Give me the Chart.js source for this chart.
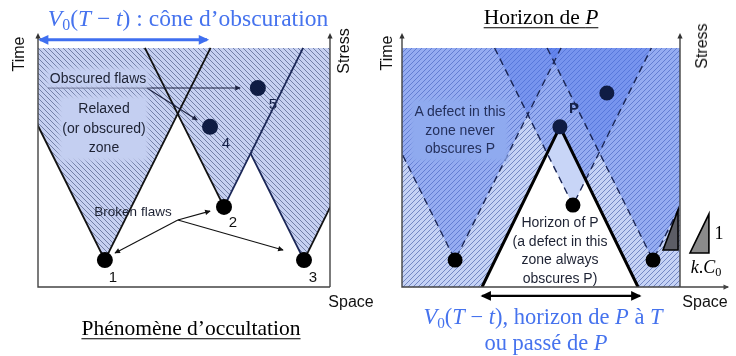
<!DOCTYPE html>
<html>
<head>
<meta charset="utf-8">
<script src="https://cdn.jsdelivr.net/npm/chart.js@4.4.0/dist/chart.umd.min.js"></script>
<style>
  body { margin: 0; background: #fff; }
  #wrap { position: relative; width: 736px; height: 356px; overflow: hidden; font-family: "Liberation Sans", Arial, sans-serif; }
  canvas { position: absolute; top: 0; }
  .t { position: absolute; transform: translate(-50%, -50%); white-space: nowrap; line-height: 1; text-align: center; }
  .rot { transform: translate(-50%, -50%) rotate(-90deg); font-size: 16px; color: #111; }
  .serif { font-family: "Liberation Serif", "DejaVu Serif", serif; }
  .blue { color: #4673ee; }
  .u { text-decoration: underline; text-decoration-thickness: 1px; text-underline-offset: 3px; }
  .sub { font-size: 0.68em; vertical-align: -0.28em; }
  .note { font-size: 14px; color: #1d2233; }
  .lbl { font-size: 15px; color: #111; }
  .navy { color: #16224a; }
  .bgL { background: #c4cff1; box-shadow: 0 0 4px 3px #c4cff1; }
  .bgR { background: #8faaef; box-shadow: 0 0 4px 3px #8faaef; }
</style>
</head>
<body>
<div id="wrap">
  <canvas id="left" width="370" height="356" style="left:0"></canvas>
  <canvas id="right" width="366" height="356" style="left:370px"></canvas>

  <div class="t serif blue" style="left:188px;top:20px;font-size:23.5px"><i>V</i><span class="sub">0</span>(<i>T</i> − <i>t</i>) : cône d’obscuration</div>
  <div class="t serif u" style="left:541px;top:18px;font-size:21.5px">Horizon de <i>P</i></div>
  <div class="t serif u" style="left:191px;top:329px;font-size:21.5px">Phénomène d’occultation</div>
  <div class="t serif blue" style="left:543px;top:318px;font-size:22.5px"><i>V</i><span class="sub">0</span>(<i>T</i> − <i>t</i>), horizon de <i>P</i> à <i>T</i></div>
  <div class="t serif blue" style="left:546px;top:343px;font-size:22.5px">ou passé de <i>P</i></div>

  <div class="t rot" style="left:19px;top:54px">Time</div>
  <div class="t rot" style="left:344px;top:51px">Stress</div>
  <div class="t rot" style="left:387px;top:53px">Time</div>
  <div class="t rot" style="left:702px;top:46px">Stress</div>
  <div class="t lbl" style="left:351px;top:302px;font-size:16px">Space</div>
  <div class="t lbl" style="left:705px;top:302px;font-size:16px">Space</div>

  <div class="t note bgL" style="left:98px;top:78px">Obscured flaws</div>
  <div class="t note bgL" style="left:104px;top:128px;line-height:19.5px">Relaxed<br>(or obscured)<br>zone</div>
  <div class="t note" style="left:133px;top:212px;font-size:13.5px">Broken flaws</div>
  <div class="t lbl" style="left:113px;top:276px">1</div>
  <div class="t lbl" style="left:233px;top:221px">2</div>
  <div class="t lbl" style="left:313px;top:276px">3</div>
  <div class="t lbl navy" style="left:226px;top:142px">4</div>
  <div class="t lbl navy" style="left:273px;top:103px">5</div>

  <div class="t note bgR" style="left:460px;top:130px;line-height:18.5px;color:#24305c">A defect in this<br>zone never<br>obscures P</div>
  <div class="t navy" style="left:574px;top:107px;font-size:15px;font-weight:bold">P</div>
  <div class="t note" style="left:560px;top:250px;line-height:18.7px">Horizon of P<br>(a defect in this<br>zone always<br>obscures P)</div>
  <div class="t serif" style="left:719px;top:233px;font-size:18px">1</div>
  <div class="t serif" style="left:706px;top:268px;font-size:18px"><i>k</i>.<i>C</i><span class="sub">0</span></div>
</div>

<script>
// ---- left panel: "Phénomène d'occultation" (space 0..10, time 0..8, T = 8)
const T_TOP = 8;
const flawSpace = [2.29, 6.37, 9.11, 5.89, 7.53];
const flawTime = [0.90, 2.68, 0.90, 5.36, 6.66];
const coneApex = [0, 1, 2];
const coneTopLeft = [-1.33, 3.66, 5.49];
const coneTopRight = [5.91, 9.08, 12.7];
const cone3Meet = [7.27, 4.49];          // where cone 3's left edge enters cone 2
const obscuredFrom = [[0.34, 6.66], [3.73, 6.66]];
const obscuredTo = [[6.92, 6.66], [5.45, 5.59]];
const brokenHub = [4.79, 2.24];
const brokenTo = [[5.89, 2.54], [2.64, 1.14], [8.39, 1.24]];
const spanArrow = [0.07, 5.79, 8.27];      // x0, x1, time

// ---- right panel: "Horizon de P"
const dotSpace = [1.91, 6.15, 9.03, 5.68, 7.37];
const dotTime = [0.90, 2.74, 0.90, 5.36, 6.49];
const rConeApex = [0, 1, 2];
const rConeTopLeft = [-1.90, 3.33, 5.22];
const rConeTopRight = [5.72, 8.97, 12.84];
const horizonApex = 3;                    // P
const horizonBase = [2.88, 8.49];
const pastOfP = [[6.15, 2.74], [6.62, 3.60], [5.68, 5.36], [5.21, 4.48]];
const slopeInner = [[9.39, 1.24], [9.93, 1.24], [9.93, 2.58]];
const slopeOuter = [[10.36, 1.14], [11.04, 1.14], [11.04, 2.44]];
const horizonArrow = [2.88, 8.56, -0.30];
const spaceAxisEnd = 11.73;

const P = (s, t) => ({ x: s, y: t });

function hatch(bg, ink, dir, step) {
    const c = document.createElement('canvas');
    c.width = c.height = step;
    const g = c.getContext('2d');
    g.fillStyle = bg;
    g.fillRect(0, 0, step, step);
    g.strokeStyle = ink;
    g.lineWidth = 1;
    g.beginPath();
    if (dir > 0) {
        g.moveTo(-1, step + 1); g.lineTo(step + 1, -1);
        g.moveTo(-1, 1); g.lineTo(1, -1);
        g.moveTo(step - 1, step + 1); g.lineTo(step + 1, step - 1);
    } else {
        g.moveTo(-1, -1); g.lineTo(step + 1, step + 1);
        g.moveTo(-1, step - 1); g.lineTo(1, step + 1);
        g.moveTo(step - 1, -1); g.lineTo(step + 1, 1);
    }
    g.stroke();
    return g.createPattern(c, 'repeat');
}

function drawHead(ctx, a, b, size, color, lw) {
    const ang = Math.atan2(b.y - a.y, b.x - a.x);
    ctx.save();
    ctx.translate(b.x, b.y);
    ctx.rotate(ang);
    ctx.translate(lw * 0.7, 0);
    ctx.fillStyle = color;
    ctx.beginPath();
    ctx.moveTo(0, 0);
    ctx.lineTo(-size * 1.6, -size * 0.75);
    ctx.lineTo(-size * 1.6, size * 0.75);
    ctx.closePath();
    ctx.fill();
    ctx.restore();
}

const arrowHeads = {
    id: 'arrowHeads',
    afterDatasetsDraw(chart) {
        const ctx = chart.ctx;
        chart.data.datasets.forEach((ds, i) => {
            if (!ds.heads) return;
            const pts = chart.getDatasetMeta(i).data;
            ds.heads.forEach(h => {
                const n = pts.length;
                if (h === 'end') drawHead(ctx, pts[n - 2], pts[n - 1], ds.headSize, ds.borderColor, ds.borderWidth);
                else drawHead(ctx, pts[1], pts[0], ds.headSize, ds.borderColor, ds.borderWidth);
            });
        });
    }
};

// frame: two vertical axes with arrows + baseline, plus slope marks
const frame = {
    id: 'frame',
    afterDraw(chart, args, opts) {
        const { ctx, chartArea: a, scales } = chart;
        (opts.marks || []).forEach(m => {
            ctx.save();
            ctx.beginPath();
            m.pts.forEach((p, k) => {
                const x = scales.x.getPixelForValue(p[0]);
                const y = scales.y.getPixelForValue(p[1]);
                k ? ctx.lineTo(x, y) : ctx.moveTo(x, y);
            });
            ctx.closePath();
            ctx.fillStyle = m.fill;
            ctx.fill();
            ctx.strokeStyle = '#000';
            ctx.lineWidth = 1.6;
            ctx.stroke();
            ctx.restore();
        });
        ctx.save();
        ctx.strokeStyle = '#444';
        ctx.lineWidth = 1.4;
        ctx.beginPath();
        ctx.moveTo(a.left, a.top + 4); ctx.lineTo(a.left, a.bottom);
        ctx.lineTo(a.right, a.bottom);
        ctx.moveTo(a.right, a.top + 4); ctx.lineTo(a.right, a.bottom);
        ctx.stroke();
        ctx.restore();
        drawHead(ctx, { x: a.left, y: a.bottom }, { x: a.left, y: a.top }, 3.5, '#333', 0);
        drawHead(ctx, { x: a.right, y: a.bottom }, { x: a.right, y: a.top }, 3.5, '#333', 0);
    }
};

function poly(points, bg, order) {
    return { data: points, fill: 'shape', backgroundColor: bg, borderWidth: 0, pointRadius: 0, order };
}
function seg(points, color, width, order, extra) {
    return Object.assign({ data: points, fill: false, borderColor: color, borderWidth: width, pointRadius: 0, order }, extra || {});
}

function baseOptions(pad, marks) {
    return {
        responsive: false,
        animation: false,
        events: [],
        layout: { padding: pad },
        scales: {
            x: { type: 'linear', min: 0, max: 10, display: false },
            y: { type: 'linear', min: 0, max: 8.5, display: false }
        },
        elements: { line: { tension: 0 }, point: { radius: 0 } },
        plugins: { legend: { display: false }, tooltip: { enabled: false }, frame: { marks } }
    };
}

// ---------- left chart
const leftFill = hatch('#c6d0f1', 'rgba(45,60,105,0.55)', -1, 5);
const leftSets = [];
coneApex.forEach((a, i) => {
    leftSets.push(poly([P(flawSpace[a], flawTime[a]), P(coneTopRight[i], T_TOP), P(coneTopLeft[i], T_TOP)], leftFill, 9));
});
const edgeBlack = '#111', edgeNavy = '#1a2656';
leftSets.push(seg([P(flawSpace[0], flawTime[0]), P(coneTopLeft[0], T_TOP)], edgeBlack, 1.8, 5));
leftSets.push(seg([P(flawSpace[0], flawTime[0]), P(coneTopRight[0], T_TOP)], edgeBlack, 1.8, 5));
leftSets.push(seg([P(flawSpace[1], flawTime[1]), P(coneTopLeft[1], T_TOP)], edgeBlack, 1.8, 5));
leftSets.push(seg([P(flawSpace[1], flawTime[1]), P(coneTopRight[1], T_TOP)], edgeNavy, 1.8, 5));
leftSets.push(seg([P(flawSpace[2], flawTime[2]), P(cone3Meet[0], cone3Meet[1])], edgeNavy, 1.8, 5));
leftSets.push(seg([P(flawSpace[2], flawTime[2]), P(coneTopRight[2], T_TOP)], edgeBlack, 1.8, 5));
obscuredFrom.forEach((f, i) => {
    leftSets.push(seg([P(f[0], f[1]), P(obscuredTo[i][0], obscuredTo[i][1])], '#1b2140', 1.1, 4, { heads: ['end'], headSize: 3.5 }));
});
brokenTo.forEach(b => {
    leftSets.push(seg([P(brokenHub[0], brokenHub[1]), P(b[0], b[1])], '#111', 1.1, 4, { heads: ['end'], headSize: 3.5 }));
});
leftSets.push(seg([P(spanArrow[0], spanArrow[2]), P(spanArrow[1], spanArrow[2])], '#3f6ff0', 3, 4,
    { heads: ['start', 'end'], headSize: 6.5, clip: false }));
leftSets.push({
    data: flawSpace.map((s, i) => P(s, flawTime[i])),
    showLine: false, pointRadius: 8, pointBorderWidth: 0,
    pointBackgroundColor: ['#000', '#000', '#000', '#0f1c44', '#0f1c44'], order: 1
});

new Chart(document.getElementById('left'), {
    type: 'line',
    data: { datasets: leftSets },
    options: baseOptions({ left: 38, right: 40, top: 33, bottom: 69 }, []),
    plugins: [arrowHeads, frame]
});

// ---------- right chart
const rightBase = hatch('#c5d2f5', 'rgba(50,75,155,0.55)', 1, 5);
const coneTint = 'rgba(70,110,235,0.38)';
const rightSets = [];
rightSets.push(poly([P(0, 0), P(10, 0), P(10, T_TOP), P(0, T_TOP)], rightBase, 10));
rConeApex.forEach((a, i) => {
    rightSets.push(poly([P(dotSpace[a], dotTime[a]), P(rConeTopRight[i], T_TOP), P(rConeTopLeft[i], T_TOP)], coneTint, 9));
});
const apex = P(dotSpace[horizonApex], dotTime[horizonApex]);
rightSets.push(poly([apex, P(horizonBase[1], 0), P(horizonBase[0], 0)], '#ffffff', 8));
rightSets.push(poly(pastOfP.map(p => P(p[0], p[1])), '#c8d5f7', 7));
rConeApex.forEach((a, i) => {
    rightSets.push(seg([P(rConeTopLeft[i], T_TOP), P(dotSpace[a], dotTime[a]), P(rConeTopRight[i], T_TOP)],
        '#1a2656', 1.4, 5, { borderDash: [7, 5] }));
});
rightSets.push(seg([P(horizonBase[0], 0), apex, P(horizonBase[1], 0)], '#000', 3, 4));
rightSets.push(seg([P(horizonArrow[0], horizonArrow[2]), P(horizonArrow[1], horizonArrow[2])], '#000', 2.2, 4,
    { heads: ['start', 'end'], headSize: 6.5, clip: false }));
rightSets.push(seg([P(10, 0), P(spaceAxisEnd, 0)], '#444', 1.4, 4, { heads: ['end'], headSize: 3.5, clip: false }));
rightSets.push({
    data: dotSpace.map((s, i) => P(s, dotTime[i])),
    showLine: false, pointRadius: 7.5, pointBorderWidth: 0,
    pointBackgroundColor: ['#000', '#000', '#000', '#0f1c44', '#0f1c44'], order: 1
});

new Chart(document.getElementById('right'), {
    type: 'line',
    data: { datasets: rightSets },
    options: baseOptions({ left: 32, right: 56, top: 33, bottom: 69 }, [
        { pts: slopeInner, fill: '#5c5d66' },
        { pts: slopeOuter, fill: '#8b8b8b' }
    ]),
    plugins: [arrowHeads, frame]
});
</script>
</body>
</html>
